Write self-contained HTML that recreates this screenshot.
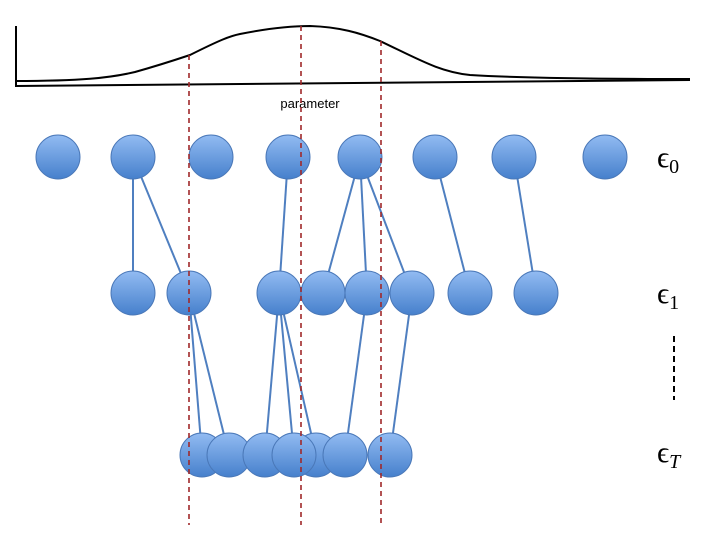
<!DOCTYPE html>
<html><head><style>html,body{margin:0;padding:0;background:#fff;}svg{display:block}</style></head>
<body>
<svg width="720" height="540" viewBox="0 0 720 540" xmlns="http://www.w3.org/2000/svg">
<defs>
<linearGradient id="g" x1="0" y1="0" x2="0" y2="1">
<stop offset="0" stop-color="#92bbf2"/><stop offset="1" stop-color="#4680cc"/>
</linearGradient>
</defs>
<!-- axes -->
<line x1="16" y1="26" x2="16" y2="87" stroke="#000" stroke-width="2"/>
<line x1="16" y1="86" x2="690" y2="80" stroke="#000" stroke-width="2"/>
<path d="M15,81 C80,81 110,78 135,72 C160,65 175,60 190,55 C220,40 230,36 240,34 C270,28 290,26 310,26 C340,27 360,33 380,41 C420,60 440,72 470,75 C520,78 600,79 690,79" fill="none" stroke="#000" stroke-width="2"/>
<text x="310" y="108" font-family="Liberation Sans, sans-serif" font-size="13" text-anchor="middle">parameter</text>
<!-- edges -->
<g stroke="#4f7fc0" stroke-width="2">
<line x1="133" y1="157" x2="133" y2="293"/>
<line x1="133" y1="157" x2="189" y2="293"/>
<line x1="288" y1="157" x2="279" y2="293"/>
<line x1="360" y1="157" x2="323" y2="293"/>
<line x1="360" y1="157" x2="367" y2="293"/>
<line x1="360" y1="157" x2="412" y2="293"/>
<line x1="435" y1="157" x2="470" y2="293"/>
<line x1="514" y1="157" x2="536" y2="293"/>
<line x1="189" y1="293" x2="202" y2="455"/>
<line x1="189" y1="293" x2="229" y2="455"/>
<line x1="279" y1="293" x2="265" y2="455"/>
<line x1="279" y1="293" x2="294" y2="455"/>
<line x1="279" y1="293" x2="316" y2="455"/>
<line x1="367" y1="293" x2="345" y2="455"/>
<line x1="412" y1="293" x2="390" y2="455"/>
</g>
<!-- nodes -->
<g fill="url(#g)" stroke="#4a78b8" stroke-width="1">
<circle cx="58" cy="157" r="22"/><circle cx="133" cy="157" r="22"/><circle cx="211" cy="157" r="22"/><circle cx="288" cy="157" r="22"/><circle cx="360" cy="157" r="22"/><circle cx="435" cy="157" r="22"/><circle cx="514" cy="157" r="22"/><circle cx="605" cy="157" r="22"/>
<circle cx="133" cy="293" r="22"/><circle cx="189" cy="293" r="22"/><circle cx="279" cy="293" r="22"/><circle cx="323" cy="293" r="22"/><circle cx="367" cy="293" r="22"/><circle cx="412" cy="293" r="22"/><circle cx="470" cy="293" r="22"/><circle cx="536" cy="293" r="22"/>
<circle cx="202" cy="455" r="22"/><circle cx="229" cy="455" r="22"/><circle cx="265" cy="455" r="22"/><circle cx="316" cy="455" r="22"/><circle cx="345" cy="455" r="22"/><circle cx="294" cy="455" r="22"/><circle cx="390" cy="455" r="22"/>
</g>
<!-- dashed red lines -->
<g stroke="#a0282a" stroke-width="1.6" stroke-dasharray="5,4">
<line x1="189" y1="55" x2="189" y2="525"/>
<line x1="301" y1="26" x2="301" y2="525"/>
<line x1="381" y1="41" x2="381" y2="525"/>
</g>
<!-- labels -->
<g font-family="Liberation Serif, serif" font-size="30">
<text x="657" y="167">ϵ<tspan font-size="20" dy="6">0</tspan></text>
<text x="657" y="303">ϵ<tspan font-size="20" dy="6">1</tspan></text>
<text x="657" y="462">ϵ<tspan font-size="20" font-style="italic" dy="6">T</tspan></text>
</g>
<line x1="674" y1="336" x2="674" y2="400" stroke="#000" stroke-width="2" stroke-dasharray="6,4"/>
</svg>
</body></html>
